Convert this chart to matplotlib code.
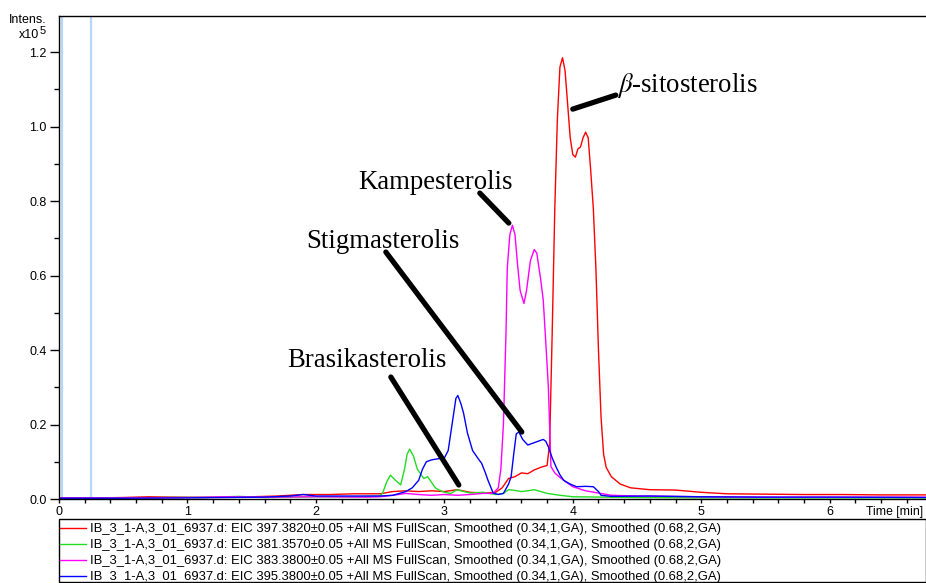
import matplotlib
matplotlib.use("Agg")
import matplotlib.pyplot as plt
from matplotlib.patches import Rectangle
from matplotlib.ticker import MultipleLocator, FormatStrFormatter

plt.rcParams["mathtext.fontset"] = "stix"

# ---------------- data (intensity in units of 1e5) ----------------
t_red = [0.0, 0.3, 0.5, 0.7, 0.9, 1.1, 1.3, 1.5, 1.7, 1.9, 2.1, 2.3, 2.5, 2.6, 2.7, 2.8,
         2.9, 3.0, 3.1, 3.2, 3.3, 3.4, 3.45, 3.5, 3.55, 3.6, 3.65, 3.7, 3.75, 3.8, 3.82,
         3.84, 3.86, 3.88, 3.9, 3.92, 3.94, 3.96, 3.98, 4.0, 4.02, 4.04, 4.06, 4.08, 4.1,
         4.12, 4.14, 4.16, 4.18, 4.2, 4.22, 4.24, 4.26, 4.3, 4.37, 4.45, 4.6, 4.8, 5.0,
         5.2, 5.5, 5.8, 6.1, 6.4, 6.75]
i_red = [0.003, 0.003, 0.004, 0.006, 0.005, 0.004, 0.005, 0.006, 0.008, 0.012, 0.012, 0.014,
         0.014, 0.020, 0.022, 0.020, 0.022, 0.020, 0.025, 0.018, 0.016, 0.018, 0.030, 0.055,
         0.060, 0.070, 0.068, 0.078, 0.085, 0.090, 0.150, 0.450, 0.780, 1.020, 1.160, 1.185,
         1.150, 1.060, 0.970, 0.925, 0.918, 0.940, 0.945, 0.970, 0.985, 0.970, 0.880, 0.780,
         0.620, 0.400, 0.220, 0.120, 0.085, 0.060, 0.040, 0.030, 0.025, 0.024, 0.018, 0.014,
         0.013, 0.012, 0.012, 0.011, 0.011]

t_green = [0.0, 0.4, 0.8, 1.2, 1.4, 1.6, 2.0, 2.3, 2.5, 2.52, 2.55, 2.58, 2.62, 2.66, 2.69,
           2.71, 2.73, 2.76, 2.79, 2.81, 2.84, 2.87, 2.9, 2.93, 2.96, 3.0, 3.05, 3.1, 3.15,
           3.2, 3.3, 3.4, 3.46, 3.5, 3.55, 3.6, 3.65, 3.7, 3.75, 3.8, 3.9, 4.0, 4.5, 5.0,
           5.5, 6.0, 6.75]
i_green = [0.003, 0.003, 0.004, 0.005, 0.007, 0.004, 0.006, 0.006, 0.008, 0.016, 0.045, 0.064,
           0.050, 0.038, 0.080, 0.120, 0.134, 0.115, 0.080, 0.070, 0.055, 0.060, 0.045, 0.030,
           0.024, 0.018, 0.015, 0.025, 0.020, 0.016, 0.018, 0.012, 0.015, 0.025, 0.023, 0.020,
           0.022, 0.025, 0.020, 0.015, 0.010, 0.006, 0.004, 0.003, 0.003, 0.003, 0.003]

t_mag = [0.0, 0.5, 1.0, 1.3, 1.6, 2.0, 2.4, 2.5, 2.6, 2.7, 2.8, 2.9, 3.0, 3.1, 3.2, 3.3,
         3.38, 3.42, 3.44, 3.46, 3.48, 3.49, 3.51, 3.53, 3.55, 3.57, 3.59, 3.62, 3.64, 3.67,
         3.7, 3.72, 3.75, 3.77, 3.79, 3.81, 3.83, 3.86, 3.9, 3.95, 4.0, 4.1, 4.2, 4.3, 4.5,
         5.0, 5.5, 6.0, 6.75]
i_mag = [0.003, 0.003, 0.004, 0.006, 0.005, 0.006, 0.005, 0.006, 0.010, 0.015, 0.012, 0.010,
         0.012, 0.010, 0.012, 0.015, 0.015, 0.030, 0.080, 0.200, 0.445, 0.620, 0.710, 0.735,
         0.710, 0.630, 0.560, 0.525, 0.560, 0.640, 0.670, 0.660, 0.590, 0.534, 0.420, 0.300,
         0.087, 0.070, 0.058, 0.045, 0.033, 0.022, 0.016, 0.010, 0.008, 0.006, 0.005, 0.005,
         0.005]

t_blue = [0.0, 0.5, 1.0, 1.3, 1.6, 1.8, 1.9, 2.0, 2.2, 2.4, 2.5, 2.6, 2.7, 2.75, 2.8, 2.83,
          2.86, 2.9, 2.95, 3.0, 3.03, 3.06, 3.09, 3.105, 3.13, 3.15, 3.18, 3.22, 3.26, 3.29,
          3.32, 3.34, 3.38, 3.42, 3.46, 3.5, 3.52, 3.54, 3.56, 3.58, 3.61, 3.65, 3.69, 3.73,
          3.77, 3.79, 3.81, 3.84, 3.87, 3.9, 3.93, 3.98, 4.03, 4.1, 4.16, 4.2, 4.22, 4.3, 4.6,
          5.0, 5.5, 6.0, 6.75]
i_blue = [0.002, 0.002, 0.003, 0.004, 0.005, 0.008, 0.012, 0.008, 0.008, 0.008, 0.008, 0.010,
          0.020, 0.030, 0.050, 0.080, 0.100, 0.105, 0.108, 0.110, 0.130, 0.200, 0.270, 0.278,
          0.255, 0.230, 0.177, 0.130, 0.110, 0.096, 0.070, 0.050, 0.016, 0.012, 0.015, 0.040,
          0.060, 0.120, 0.175, 0.180, 0.160, 0.145, 0.150, 0.155, 0.160, 0.155, 0.140, 0.110,
          0.086, 0.065, 0.050, 0.040, 0.033, 0.034, 0.033, 0.020, 0.010, 0.007, 0.008, 0.006,
          0.005, 0.005, 0.004]

series_labels = [
    "IB_3_1-A,3_01_6937.d: EIC 397.3820\u00b10.05 +All MS FullScan, Smoothed (0.34,1,GA), Smoothed (0.68,2,GA)",
    "IB_3_1-A,3_01_6937.d: EIC 381.3570\u00b10.05 +All MS FullScan, Smoothed (0.34,1,GA), Smoothed (0.68,2,GA)",
    "IB_3_1-A,3_01_6937.d: EIC 383.3800\u00b10.05 +All MS FullScan, Smoothed (0.34,1,GA), Smoothed (0.68,2,GA)",
    "IB_3_1-A,3_01_6937.d: EIC 395.3800\u00b10.05 +All MS FullScan, Smoothed (0.34,1,GA), Smoothed (0.68,2,GA)",
]
series_colors = ["#ff0000", "#22dd22", "#ff00ff", "#0000ff"]

marker_times = [0.02, 0.25]

compound_names = ["$\\beta$-sitosterolis", "Kampesterolis", "Stigmasterolis", "Brasikasterolis"]

# ---------------- figure ----------------
W, H = 926, 583
fig = plt.figure(figsize=(W / 100, H / 100), dpi=100)
ax = fig.add_axes([59 / W, 1 - 499 / H, (W - 59) / W, (499 - 16) / H])

xs = [t_red, t_green, t_mag, t_blue]
ys = [i_red, i_green, i_mag, i_blue]
lines = []
for x, y, c, lab in zip(xs, ys, series_colors, series_labels):
    ln, = ax.plot(x, y, color=c, lw=1.0, label=lab)
    lines.append(ln)

for mt in marker_times:
    ax.axvline(mt, color="#b5d8f7", lw=1.6, zorder=0)

ax.set_xlim(0, 6.75)
ax.set_ylim(0, 1.297)
ax.spines["right"].set_visible(False)
for s in ["left", "top", "bottom"]:
    ax.spines[s].set_linewidth(1.0)
    ax.spines[s].set_color("black")

ax.xaxis.set_minor_locator(MultipleLocator(0.2))
ax.yaxis.set_major_locator(MultipleLocator(0.2))
ax.yaxis.set_minor_locator(MultipleLocator(0.1))
ax.yaxis.set_major_formatter(FormatStrFormatter("%.1f"))
ax.set_xticks([0, 1, 2, 3, 4, 5, 6])
ax.tick_params(axis="y", which="major", length=6.5, width=1, labelsize=9, pad=2.5)
ax.tick_params(axis="y", which="minor", length=3.5, width=1)
ax.tick_params(axis="x", which="both", length=3, width=1, labelsize=9, pad=2)
for lbl in ax.get_xticklabels() + ax.get_yticklabels():
    lbl.set_family("Liberation Sans")

fig.text(47 / W, 1 - 20 / H, "Intens.", ha="right", va="center", fontsize=9, family="Liberation Sans")
fig.text(39.5 / W, 1 - 38 / H, "x10", ha="right", va="baseline", fontsize=9, family="Liberation Sans")
fig.text(39.5 / W, 1 - 33.5 / H, "5", ha="left", va="baseline", fontsize=8, family="Liberation Sans")
fig.text(923 / W, 1 - 512 / H, "Time [min]", ha="right", va="center", fontsize=8.8, family="Liberation Sans")

# ---------------- annotations ----------------
def px2data(px, py):
    return ((px - 59) / 128.5, (499 - py) / 372.5)

ann = [
    (compound_names[0], (617, 92), (573, 109), (616, 95)),
    (compound_names[1], (358, 189), (480, 193), (509, 223)),
    (compound_names[2], (306, 248), (386, 252), (522, 432)),
    (compound_names[3], (287, 367), (391, 377), (459, 485)),
]
for name, tp, p0, p1 in ann:
    tx, ty = px2data(*tp)
    ax.text(tx, ty, name, ha="left", va="baseline", fontsize=19.3, family="Liberation Serif", color="black")
    x0, y0 = px2data(*p0)
    x1, y1 = px2data(*p1)
    ax.plot([x0, x1], [y0, y1], color="black", lw=3.8, solid_capstyle="round")

# ---------------- legend ----------------
fig.patches.append(Rectangle((59 / W, 1 - 582 / H), (W - 59.5) / W, 63 / H,
                             transform=fig.transFigure, fill=False, ec="black", lw=1.0))
leg = fig.legend(handles=lines, loc="upper left",
                 bbox_to_anchor=(59 / W, 1 - 582 / H, (W - 59) / W, 60 / H),
                 mode="expand", ncol=1, frameon=False,
                 borderaxespad=0, handlelength=2.0, handletextpad=0.3, labelspacing=0.31,
                 borderpad=0.08, prop={"family": "Liberation Sans", "size": 9.35})

fig.savefig("out.png", dpi=100)
